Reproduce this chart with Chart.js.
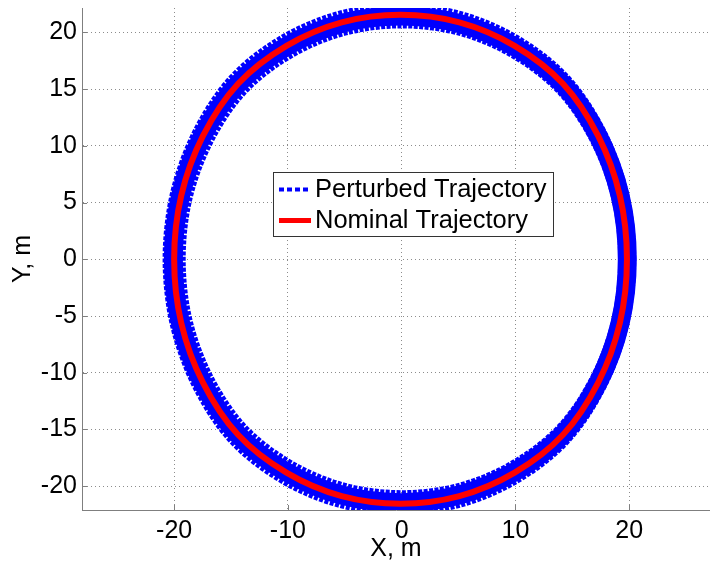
<!DOCTYPE html>
<html><head><meta charset="utf-8">
<script src="https://cdn.jsdelivr.net/npm/chart.js@4"></script>
<style>html,body{margin:0;padding:0;background:#fff;overflow:hidden}</style>
</head><body>
<canvas id="c" width="710" height="567"></canvas>
<script>
// ---- data ----
const xTicks = [-20, -10, 0, 10, 20];
const yTicks = [-20, -15, -10, -5, 0, 5, 10, 15, 20];

const nominalX = [19.80, 19.18, 17.27, 14.18, 9.93, 5.07, -0.10, -5.27, -10.13, -14.38, -17.47, -19.38, -20.00, -19.38, -17.47, -14.38, -10.13, -5.27, -0.10, 5.07, 9.93, 14.18, 17.27, 19.18];
const nominalY = [0, 5.60, 10.87, 15.47, 18.81, 20.88, 21.55, 20.88, 18.81, 15.47, 10.87, 5.60, 0, -5.60, -10.87, -15.47, -18.81, -20.88, -21.55, -20.88, -18.81, -15.47, -10.87, -5.60];

const pertMidX = [19.83, 19.21, 17.30, 14.20, 9.94, 5.06, -0.12, -5.30, -10.18, -14.44, -17.54, -19.45, -20.07, -19.45, -17.54, -14.44, -10.18, -5.30, -0.12, 5.06, 9.94, 14.20, 17.30, 19.21];
const pertMidY = [0, 5.57, 10.82, 15.40, 18.73, 20.78, 21.45, 20.78, 18.73, 15.40, 10.82, 5.57, 0, -5.57, -10.82, -15.40, -18.73, -20.78, -21.45, -20.78, -18.73, -15.40, -10.82, -5.57];

const pertOuterX = [20.22, 19.58, 17.62, 14.46, 10.09, 5.10, -0.20, -5.50, -10.49, -14.86, -18.02, -19.98, -20.62, -19.98, -18.02, -14.86, -10.49, -5.50, -0.20, 5.10, 10.09, 14.46, 17.62, 19.58];
const pertOuterY = [0, 5.77, 11.19, 15.93, 19.38, 21.50, 22.20, 21.50, 19.38, 15.93, 11.19, 5.77, 0, -5.77, -11.19, -15.93, -19.38, -21.50, -22.20, -21.50, -19.38, -15.93, -11.19, -5.77];

const pertInnerX = [19.42, 18.82, 16.95, 13.94, 9.80, 5.06, 0.02, -5.02, -9.76, -13.90, -16.91, -18.78, -19.38, -18.78, -16.91, -13.90, -9.76, -5.02, 0.02, 5.06, 9.80, 13.94, 16.95, 18.82];
const pertInnerY = [0, 5.39, 10.46, 14.89, 18.11, 20.10, 20.75, 20.10, 18.11, 14.89, 10.46, 5.39, 0, -5.39, -10.46, -14.89, -18.11, -20.10, -20.75, -20.10, -18.11, -14.89, -10.46, -5.39];

// close a sampled loop (wraps existing points so the smooth curve joins up)
function loop(xs, ys) {
  const n = xs.length;
  const idx = [n - 1, ...xs.keys(), 0, 1];
  return idx.map(i => ({x: xs[i], y: ys[i]}));
}
// the two wrap-around helper segments are only there for smooth tangents: hide them
const N = nominalX.length;
const hideWrap = {borderColor: c => (c.p0DataIndex === 0 || c.p0DataIndex === N + 1) ? 'rgba(0,0,0,0)' : undefined};

const FONT = '"Liberation Sans", Arial, Helvetica, sans-serif';
Chart.defaults.font.family = FONT;
Chart.defaults.font.size = 25;
Chart.defaults.color = '#000';

const common = {showLine: true, pointRadius: 0, pointHoverRadius: 0, fill: false, tension: 0.33,
  capBezierPoints: false, clip: 0, borderJoinStyle: 'round', segment: hideWrap};

const inwardTicks = {
  id: 'inwardTicks',
  beforeDatasetsDraw(chart) {
    const {ctx, chartArea: a, scales: {x, y}} = chart;
    ctx.save();
    ctx.strokeStyle = '#7f7f7f';
    ctx.lineWidth = 1;
    ctx.beginPath();
    xTicks.forEach(v => { const p = Math.round(x.getPixelForValue(v)) + 0.5; ctx.moveTo(p, a.bottom); ctx.lineTo(p, a.bottom - 5); });
    yTicks.forEach(v => { const p = Math.round(y.getPixelForValue(v)) + 0.5; ctx.moveTo(a.left, p); ctx.lineTo(a.left + 5, p); });
    ctx.stroke();
    ctx.restore();
  }
};

const legendBox = {
  id: 'legendBox',
  afterDraw(chart, args, o) {
    const ctx = chart.ctx;
    const items = chart.data.datasets.filter(d => d.inLegend);
    ctx.save();
    ctx.fillStyle = '#fff';
    ctx.fillRect(o.x, o.y, o.w, o.h);
    ctx.strokeStyle = '#333';
    ctx.lineWidth = 1;
    ctx.strokeRect(o.x + 0.5, o.y + 0.5, o.w, o.h);
    items.forEach((d, i) => {
      const cy = o.y + o.firstRow + i * o.rowGap;
      ctx.beginPath();
      ctx.setLineDash(d.legendDash || []);
      ctx.strokeStyle = d.borderColor;
      ctx.lineWidth = d.legendWidth;
      ctx.moveTo(o.x + o.lineStart, cy);
      ctx.lineTo(o.x + o.lineEnd, cy);
      ctx.stroke();
      ctx.setLineDash([]);
      ctx.fillStyle = '#000';
      ctx.font = '25.5px ' + FONT;
      ctx.textBaseline = 'middle';
      ctx.textAlign = 'left';
      ctx.fillText(d.label, o.x + o.textStart, cy);
    });
    ctx.restore();
  }
};

new Chart(document.getElementById('c'), {
  type: 'scatter',
  data: {
    datasets: [
      Object.assign({}, common, {label: 'Perturbed outer', data: loop(pertOuterX, pertOuterY), borderColor: '#0000ff', borderWidth: 9, borderDash: [4, 1.5], order: 2}),
      Object.assign({}, common, {label: 'Perturbed Trajectory', data: loop(pertMidX, pertMidY), borderColor: '#0000ff', borderWidth: 19, order: 1,
        inLegend: true, legendDash: [5, 3], legendWidth: 4}),
      Object.assign({}, common, {label: 'Perturbed inner', data: loop(pertInnerX, pertInnerY), borderColor: '#0000ff', borderWidth: 9, borderDash: [4, 1.5], borderDashOffset: 2, order: 2}),
      Object.assign({}, common, {label: 'Nominal Trajectory', data: loop(nominalX, nominalY), borderColor: '#ff0000', borderWidth: 6, order: 0,
        inLegend: true, legendWidth: 5})
    ]
  },
  options: {
    responsive: false,
    animation: false,
    events: [],
    layout: {padding: {top: 8, left: 0, right: 0, bottom: 0}},
    plugins: {
      legend: {display: false},
      tooltip: {enabled: false},
      legendBox: {x: 273, y: 172, w: 280, h: 64, firstRow: 17.5, rowGap: 31, lineStart: 6, lineEnd: 38, textStart: 42}
    },
    scales: {
      x: {
        type: 'linear', position: 'bottom', min: -28.1, max: 27.1,
        afterBuildTicks: s => { s.ticks = xTicks.map(v => ({value: v})); },
        afterFit: s => { s.height = 57; s.paddingLeft = 0; s.paddingRight = 0; },
        ticks: {padding: 6, color: '#000', maxRotation: 0, autoSkip: false, callback: v => String(v)},
        grid: {color: '#8c8c8c', drawTicks: false, lineWidth: 1},
        border: {display: true, color: '#7f7f7f', width: 1, dash: [1, 3]},
        title: {display: true, text: 'X, m', color: '#000', padding: {top: 0, bottom: 3}}
      },
      y: {
        type: 'linear', position: 'left', min: -22.1, max: 22.15,
        afterBuildTicks: s => { s.ticks = yTicks.map(v => ({value: v})); },
        afterFit: s => { s.width = 82; s.paddingTop = 0; s.paddingBottom = 0; },
        ticks: {padding: 5, color: '#000', autoSkip: false, callback: v => String(v)},
        grid: {color: '#8c8c8c', drawTicks: false, lineWidth: 1},
        border: {display: true, color: '#7f7f7f', width: 1, dash: [1, 3]},
        title: {display: true, text: 'Y, m', color: '#000', padding: {top: 8, bottom: 0}}
      }
    }
  },
  plugins: [inwardTicks, legendBox]
});
</script>
</body></html>
